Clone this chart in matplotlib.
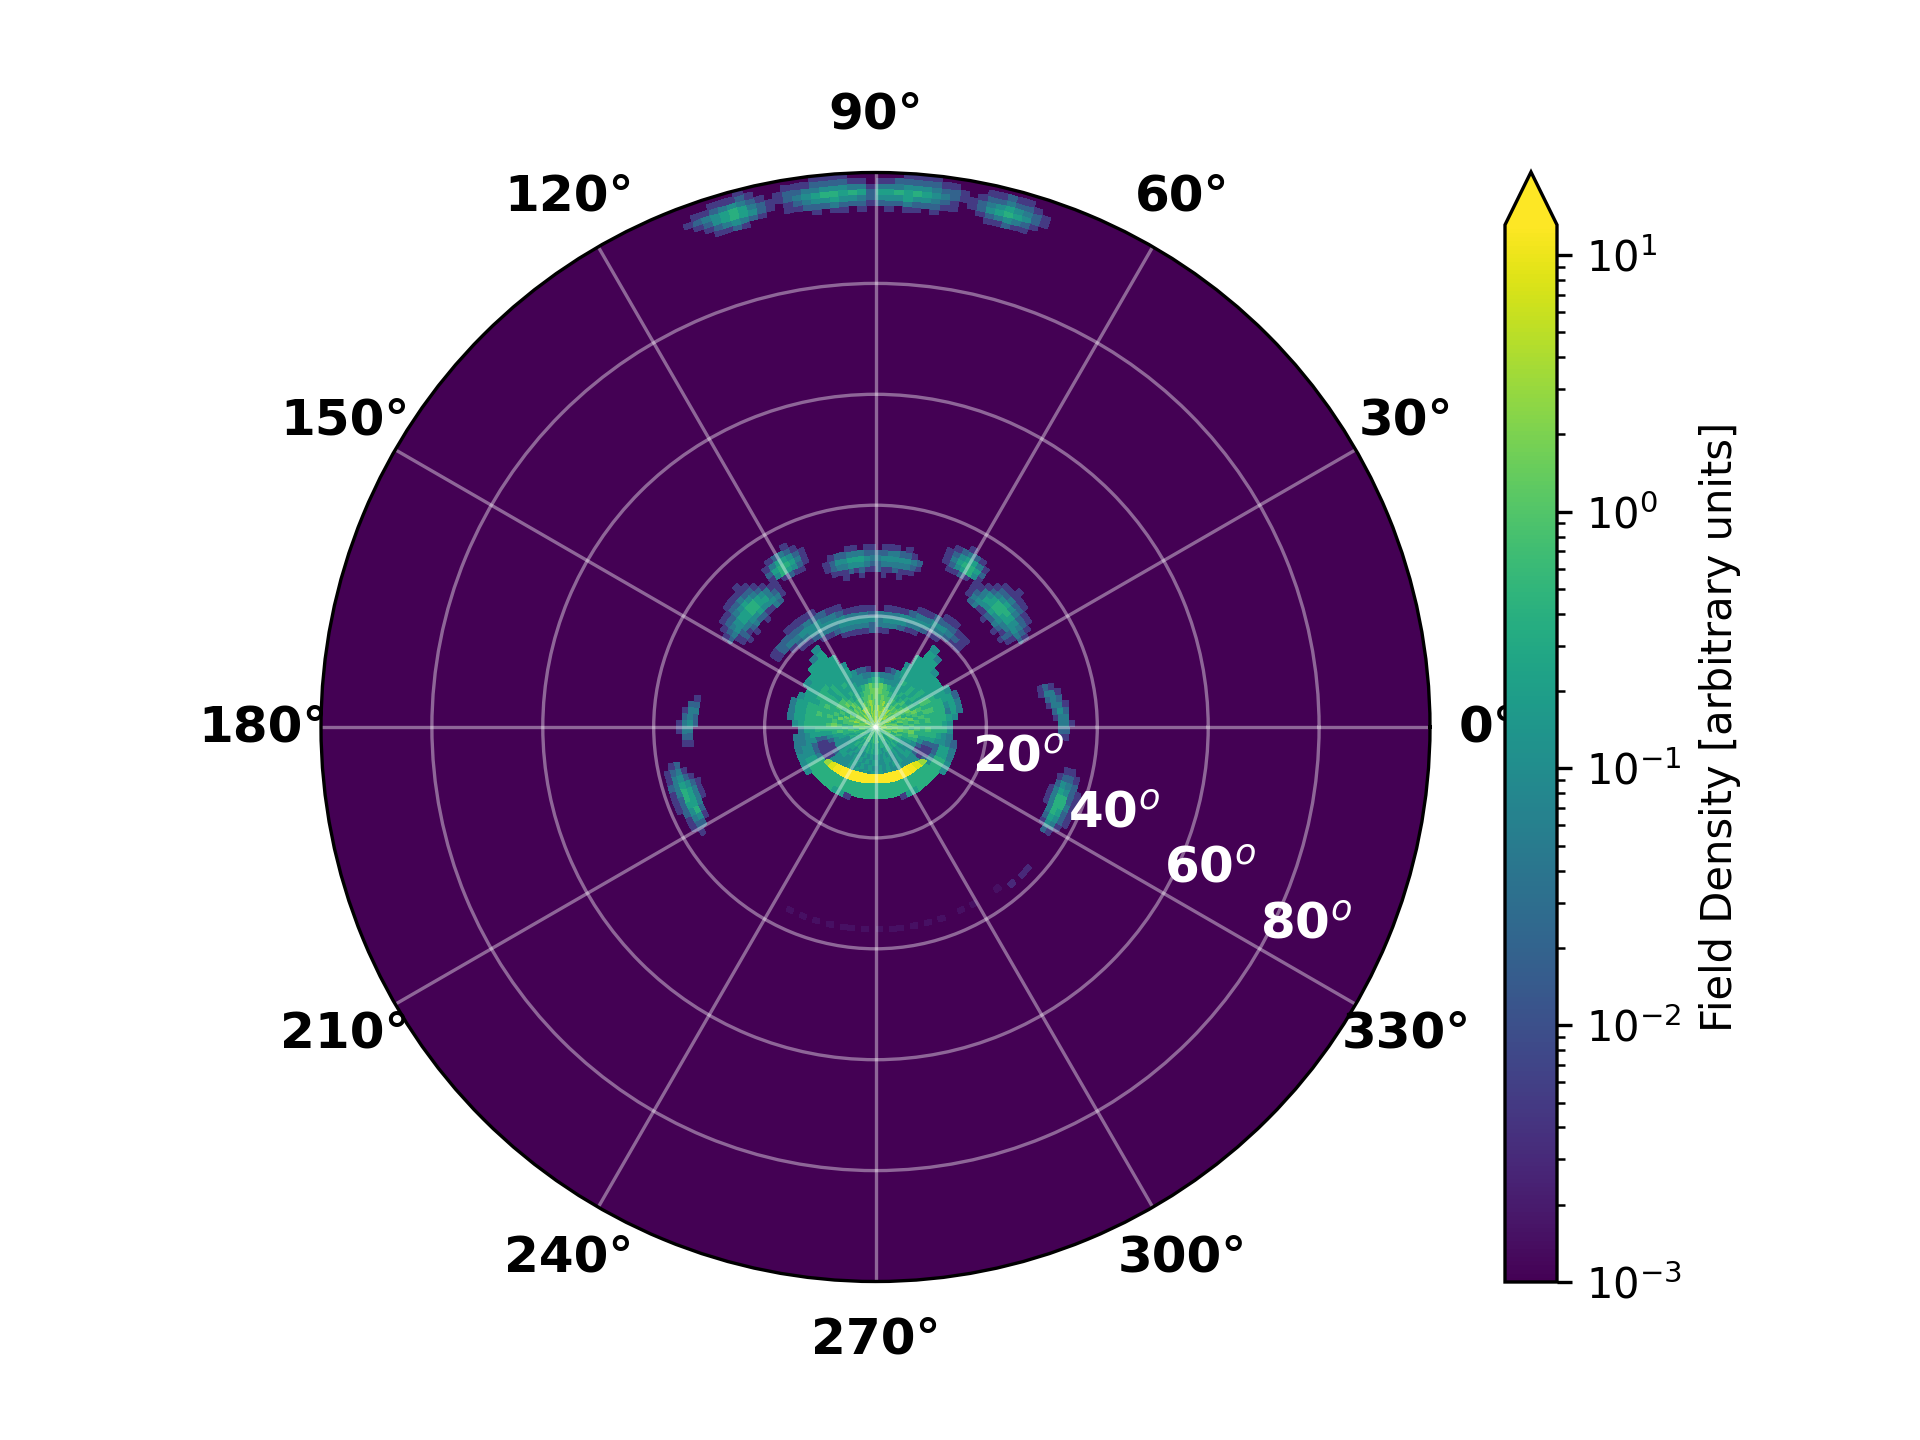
import numpy as np
import matplotlib
matplotlib.use("Agg")
import matplotlib.pyplot as plt
from matplotlib.colors import LogNorm

# colour scale
vmin = 1e-3
vmax = 13.1
radial_limit = 100
radial_ticks = [20, 40, 60, 80]
radial_tick_labels = ['20$^o$', '40$^o$', '60$^o$', '80$^o$']
angle_ticks = [0, 30, 60, 90, 120, 150, 180, 210, 240, 270, 300, 330]
colorbar_label = 'Field Density [arbitrary units]'

# Codes used by the tables below
code_values = {'a': 0.0015, 'b': 0.003, '1': 0.005, '2': 0.02, '3': 0.05, '4': 0.1, '5': 0.2,
               '6': 0.4, '7': 0.8, '8': 1.5, '9': 3.0}

# Inner field: one row per 1 degree ring, six 5-degree sectors per group (0-360 deg)
inner_rings = [
    "878987 897898 987889 898798 789879 878987 786767 676576 676767 676767 676778 787878",
    "789878 987889 898798 979887 878987 789878 677676 765667 576766 667657 766767 678789",
    "878798 879897 889978 898979 788978 987887 787667 656767 675676 767566 676567 768787",
    "787689 878798 798897 879789 897878 878978 767656 565656 656565 565665 656567 676878",
    "768787 787876 879878 789878 768787 687876 676565 556565 456565 565456 565656 567687",
    "677867 876767 677878 878776 767867 768776 766544 555454 545454 454545 454545 456677",
    "768678 767656 567788 887765 656787 676867 675544 454545 454545 544554 454544 456786",
    "676786 656565 556787 787655 565677 767678 665444 455445 545454 454545 454554 446767",
    "667676 565655 544456 654445 555656 666767 654211 244445 454545 454544 544442 124566",
    "676767 565656 443334 433444 565656 676666 652111 144444 444444 444444 444441 112567",
    "666767 565555 542100 012245 555656 666766 652111 166666 666666 666666 666662 112566",
    "666666 555555 500000 000005 555566 656666 554223 666666 666666 666666 666664 322456",
    "566665 555555 400000 000004 555555 556666 544445 666666 666666 666666 666666 655446",
    "453455 555555 000000 000000 555555 555555 333445 666665 510000 000015 566666 655334",
    "045554 004555 000000 000000 555554 045554 033344 400000 000000 000000 000004 433200",
    "003320 000550 000000 000000 055500 003330 000000 000000 000000 000000 000000 000000",
    "000000 000350 000000 000000 053000 000000 000000 000000 000000 000000 000000 000000",
    "000000 000040 000000 000000 040000 000000 000000 000000 000000 000000 000000 000000",
]
inner_r_start, inner_dr = 0, 1
inner_th_start, inner_dth = 0, 5

# Yellow band under the centre
band_theta = [214, 219, 225, 232, 240, 250, 260, 270, 280, 290, 300, 308, 315, 321, 326]
band_r = [10.8, 10.5, 10.2, 10.0, 9.8, 9.5, 9.4, 9.3, 9.4, 9.5, 9.7, 9.8, 10.0, 10.4, 10.7]
band_hw = [0.4, 0.6, 0.7, 0.8, 0.8, 0.8, 0.8, 0.8, 0.8, 0.8, 0.8, 0.8, 0.7, 0.6, 0.4]
band_vals = [3.0, 8.0, 11.0, 13.0, 13.0, 13.0, 13.0, 13.0, 13.0, 13.0, 13.0, 11.0, 8.0, 3.0]

# Arc above the centre: theta 34-150, 4-degree sectors, rings from r = 17
arc_inner_rows = [
    "00000 00000 00112 11110 00000 0000",
    "00000 00011 23332 33332 11000 0000",
    "00000 11233 44434 44443 33211 0000",
    "00112 33444 43332 33344 44432 1000",
    "00123 44332 11101 11123 34443 3210",
    "00112 22110 00000 00011 22322 2210",
    "00001 10000 00000 00000 01111 0000",
]

# Thin arc at the top: theta 70-110, 2-degree sectors, rings from r = 27
arc_top_rows = [
    "00000 10010 00100 10000",
    "00011 12112 11212 11100",
    "00123 33332 23444 33210",
    "00234 44443 34555 44210",
    "00012 23322 22333 22100",
    "00001 01110 11011 00000",
]

# Spot and streak upper left: theta 110-152, 2-degree sectors, rings from r = 27
upper_left_rows = [
    "000000000000100101000",
    "000000002311223212100",
    "000000013444544332100",
    "000000012355665544320",
    "001121011345665543210",
    "012456410123454322100",
    "013566520012232211000",
    "012455310001111100000",
    "001232100000100000000",
    "000100000000000000000",
]

# Streak and spot upper right: theta 28-70, 2-degree sectors, rings from r = 27
upper_right_rows = [
    "000101001000000000000",
    "001212322113200000000",
    "001233445444310000000",
    "023445566553210000000",
    "012345666543110121100",
    "001223454321014654210",
    "000112232210025665310",
    "000001111100013554210",
    "000000010000001232100",
    "000000000000000010000",
]

# Lower streaks: 2-degree sectors, rings from r = 33; left from theta 188, right from 326
low_left_rows = [
    "0000111000000",
    "0001233321000",
    "0012455564200",
    "0234566543210",
    "0123332221100",
    "0011211100000",
]
low_right_rows = [
    "0000011100000",
    "0012333321000",
    "0245666542100",
    "0134566432100",
    "0012232221000",
    "0001111100000",
]

# Faint side streaks: left from theta 168, r = 32; right from theta -4, r = 30
side_left_rows = [
    "0123220000",
    "0023343210",
    "0001233210",
    "0000011000",
]
side_right_rows = [
    "0000000110",
    "0000012320",
    "0001233310",
    "1233432100",
    "1233210000",
    "0010000000",
]

# Rim arcs: theta 68-112, 1-degree sectors, rings from r = 93
rim_rows = [
    "0000 0112110 000 01011010010110100 000 00121100 00",
    "0000 1234321 001 12223222122232221 100 12343210 00",
    "0001 2456542 101 23445444234454432 101 24565421 00",
    "0001 2345432 112 34565655256566543 211 23565432 10",
    "0000 1223221 012 23444333133444332 210 12343211 00",
    "0000 0112110 001 12222211011222211 100 01211100 00",
    "0000 0000000 000 01111000000111100 000 00100000 00",
]

# Very faint specks under the centre: theta 244-316, 2-degree sectors, rings from r = 36
specks_rows = [
    "a0a0a0a0aa0a0a0aa0a0a0a00a0a000a000000",
    "000000000000000000000000000000000b0bb0",
]

# ---------------------------------------------------------------------------
plt.rcParams['font.family'] = 'DejaVu Sans'
cmap = plt.get_cmap('viridis')
norm = LogNorm(vmin=vmin, vmax=vmax)

fig = plt.figure(figsize=(6.4, 4.8), dpi=300)
ax = fig.add_axes([321 / 1920, 158 / 1440, 1109 / 1920, 1110 / 1440], projection='polar')
ax.set_facecolor(cmap(0.0))


def draw_rows(rows, th_start, dth, r_start, dr):
    """Draw a table of colour codes; code 0 leaves the background showing."""
    rows = [r.replace(' ', '') for r in rows]
    ncol = max(len(r) for r in rows)
    vals = np.array([[code_values.get(c, np.nan) for c in r.ljust(ncol, '0')] for r in rows])
    th = np.radians(th_start + dth * np.arange(ncol + 1))
    rr = r_start + dr * np.arange(len(rows) + 1)
    T, R = np.meshgrid(th, rr)
    return ax.pcolormesh(T, R, np.ma.masked_invalid(vals), cmap=cmap, norm=norm,
                         shading='flat', zorder=1)


def draw_arc(theta, radius, half_width, values):
    th = np.radians(theta)
    r = np.asarray(radius, float)
    w = np.asarray(half_width, float)
    T = np.vstack([th, th])
    R = np.vstack([r - w, r + w])
    return ax.pcolormesh(T, R, np.asarray(values, float)[None, :], cmap=cmap, norm=norm,
                         shading='flat', zorder=1)


# background
Tb, Rb = np.meshgrid(np.radians(np.arange(0, 365, 5)), [0, radial_limit])
main = ax.pcolormesh(Tb, Rb, np.full((1, 72), vmin), cmap=cmap, norm=norm, shading='flat', zorder=1)

draw_rows(inner_rings, inner_th_start, inner_dth, inner_r_start, inner_dr)
draw_arc(band_theta, band_r, band_hw, band_vals)
draw_rows(arc_inner_rows, 34, 4, 17, 1)
draw_rows(arc_top_rows, 70, 2, 27, 1)
draw_rows(upper_left_rows, 110, 2, 27, 1)
draw_rows(upper_right_rows, 28, 2, 27, 1)
draw_rows(low_left_rows, 188, 2, 33, 1)
draw_rows(low_right_rows, 326, 2, 33, 1)
draw_rows(side_left_rows, 168, 2, 32, 1)
draw_rows(side_right_rows, -4, 2, 30, 1)
draw_rows(rim_rows, 68, 1, 93, 1)
draw_rows(specks_rows, 244, 2, 36, 1)

ax.set_ylim(0, radial_limit)
ax.set_xticks(np.radians(angle_ticks))
ax.set_xticklabels([f'{a}°' for a in angle_ticks], fontsize=12, fontweight='bold')
ax.set_yticks(radial_ticks)
ax.set_yticklabels(radial_tick_labels, fontsize=12, fontweight='bold', color='white')
ax.set_rlabel_position(-30)
for lab in ax.get_yticklabels():
    lab.set_ha('left')
    lab.set_va('bottom')
ax.grid(True, color='white', alpha=0.4, linewidth=0.8)

cax = fig.add_axes([1505 / 1920, 158 / 1440, 52 / 1920, 1110 / 1440])
cb = fig.colorbar(main, cax=cax, extend='max')
cb.set_label(colorbar_label, fontsize=10)
cb.ax.yaxis.label.set_y(0.5255)
cb.ax.tick_params(labelsize=10)

fig.savefig('out.png', dpi=300)
